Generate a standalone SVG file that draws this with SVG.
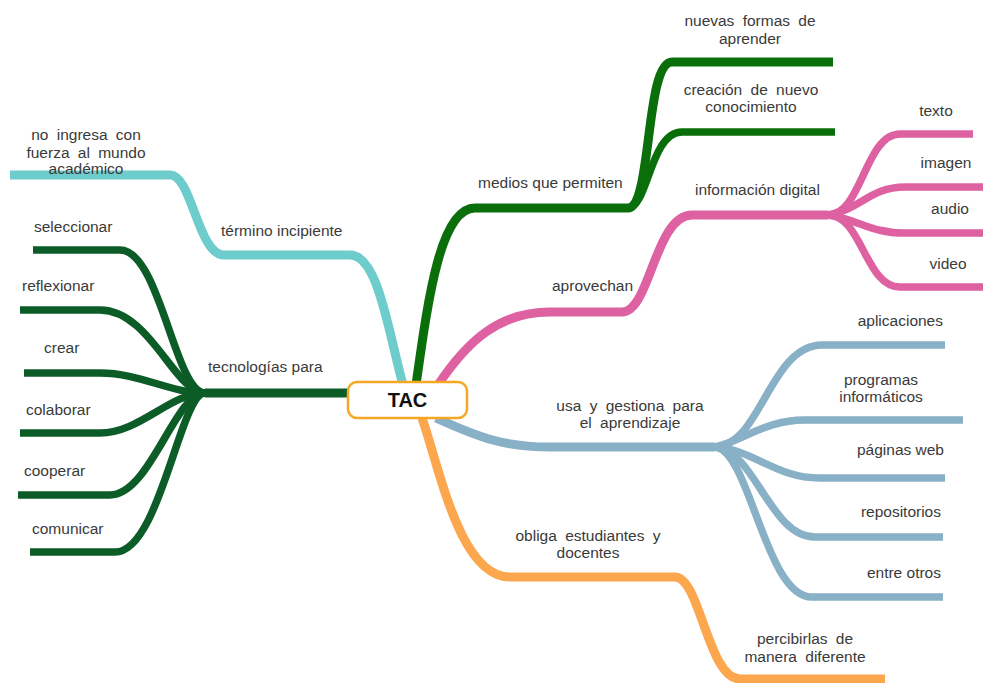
<svg xmlns="http://www.w3.org/2000/svg" width="983" height="683" viewBox="0 0 983 683">
<style>
.c{fill:none;stroke-linecap:butt;stroke-linejoin:round}
.m{stroke-width:9}
.s{stroke-width:7.5}
.teal{stroke:#6fcccc}
.g1{stroke:#0a6f0a}
.g2{stroke:#0c5c28}
.pk{stroke:#de61a2}
.bl{stroke:#88b0c6}
.or{stroke:#fca64e}
text{font-family:"Liberation Sans",Arial,sans-serif;font-size:15.5px;fill:#3a3a3a}
.ctr{text-anchor:middle;word-spacing:4px}
.end{text-anchor:end}
.title{font-size:20px;font-weight:bold;fill:#111;text-anchor:middle}
</style>
<rect width="983" height="683" fill="#fff"/>
<g id="connectors">
<path class="c m teal" d="M 10 175 L 170 175 C 192 175, 198 255, 224 255 L 350 255 C 378 255, 388 330, 403 385"/>
<path class="c m g1" d="M 416 385 C 428 300, 440 208, 475 208 L 628 208 C 652 208, 645 62, 672 62 L 833 62"/>
<path class="c s g1" d="M 628 208 C 648 208, 650 132, 682 132 L 835 132"/>
<path class="c m pk" d="M 438 385 C 468 340, 500 312, 550 312 L 622 312 C 650 312, 655 215, 692 215 L 828 215"/>
<path class="c s pk" d="M 828 215 C 862 215, 865 134, 900 134 L 973 134"/>
<path class="c s pk" d="M 828 215 C 860 210, 870 187, 905 187 L 983 187"/>
<path class="c s pk" d="M 828 215 C 860 220, 870 233, 905 233 L 983 233"/>
<path class="c s pk" d="M 828 215 C 862 215, 865 287, 900 287 L 983 287"/>
<path class="c m bl" d="M 436 418 C 480 438, 505 447, 550 447 L 715 447"/>
<path class="c s bl" d="M 715 447 C 760 447, 770 345, 822 345 L 945 345"/>
<path class="c s bl" d="M 715 447 C 745 440, 765 420, 805 420 L 963 420"/>
<path class="c s bl" d="M 715 447 C 755 450, 775 478, 820 478 L 945 478"/>
<path class="c s bl" d="M 715 447 C 755 450, 770 537, 815 537 L 943 537"/>
<path class="c s bl" d="M 715 447 C 750 450, 765 597, 812 597 L 943 597"/>
<path class="c m or" d="M 422 418 C 440 470, 460 577, 510 577 L 675 577 C 700 577, 708 679, 740 679 L 885 679"/>
<path class="c m g2" d="M 348 393 L 205 393"/>
<path class="c s g2" d="M 205 393 C 175 393, 160 250, 120 250 L 33 250"/>
<path class="c s g2" d="M 205 393 C 175 393, 150 310, 100 310 L 20 310"/>
<path class="c s g2" d="M 205 393 C 170 393, 140 373, 100 373 L 24 373"/>
<path class="c s g2" d="M 205 393 C 170 393, 140 433, 100 433 L 20 433"/>
<path class="c s g2" d="M 205 393 C 175 393, 150 495, 110 495 L 18 495"/>
<path class="c s g2" d="M 205 393 C 180 393, 160 552, 115 552 L 30 552"/>
</g>
<g id="TAC">
<rect x="348" y="382" width="119" height="36" rx="9" fill="#fff" stroke="#f5a623" stroke-width="2.5"/>
<text class="title" x="407.5" y="407">TAC</text>
</g>
<g id="termino">
<text x="221" y="236">término incipiente</text>
</g>
<g id="no-ingresa">
<text class="ctr" x="86" y="140">no ingresa con</text>
<text class="ctr" x="86" y="158">fuerza al mundo</text>
<text class="ctr" x="86" y="174">académico</text>
</g>
<g id="tecnologias">
<text x="208" y="372">tecnologías para</text>
</g>
<g id="seleccionar"><text x="34" y="232">seleccionar</text></g>
<g id="reflexionar"><text x="22" y="291">reflexionar</text></g>
<g id="crear"><text x="44" y="353">crear</text></g>
<g id="colaborar"><text x="26" y="415">colaborar</text></g>
<g id="cooperar"><text x="24" y="476">cooperar</text></g>
<g id="comunicar"><text x="32" y="534">comunicar</text></g>
<g id="medios"><text x="478" y="188">medios que permiten</text></g>
<g id="nuevas">
<text class="ctr" x="750" y="26">nuevas formas de</text>
<text class="ctr" x="750" y="44">aprender</text>
</g>
<g id="creacion">
<text class="ctr" x="751" y="95">creación de nuevo</text>
<text class="ctr" x="751" y="112">conocimiento</text>
</g>
<g id="aprovechan"><text x="552" y="291">aprovechan</text></g>
<g id="informacion"><text x="695" y="195">información digital</text></g>
<g id="texto"><text class="ctr" x="936" y="116">texto</text></g>
<g id="imagen"><text class="ctr" x="946" y="168">imagen</text></g>
<g id="audio"><text class="ctr" x="950" y="214">audio</text></g>
<g id="video"><text class="ctr" x="948" y="269">video</text></g>
<g id="usa">
<text class="ctr" x="630" y="411">usa y gestiona para</text>
<text class="ctr" x="630" y="428">el aprendizaje</text>
</g>
<g id="aplicaciones"><text class="end" x="943" y="326">aplicaciones</text></g>
<g id="programas">
<text class="ctr" x="881" y="385">programas</text>
<text class="ctr" x="881" y="402">informáticos</text>
</g>
<g id="paginas"><text class="end" x="944" y="455">páginas web</text></g>
<g id="repositorios"><text class="end" x="941" y="517">repositorios</text></g>
<g id="entre"><text class="end" x="941" y="578">entre otros</text></g>
<g id="obliga">
<text class="ctr" x="588" y="541">obliga estudiantes y</text>
<text class="ctr" x="588" y="558">docentes</text>
</g>
<g id="percibirlas">
<text class="ctr" x="805" y="644">percibirlas de</text>
<text class="ctr" x="805" y="662">manera diferente</text>
</g>
</svg>
